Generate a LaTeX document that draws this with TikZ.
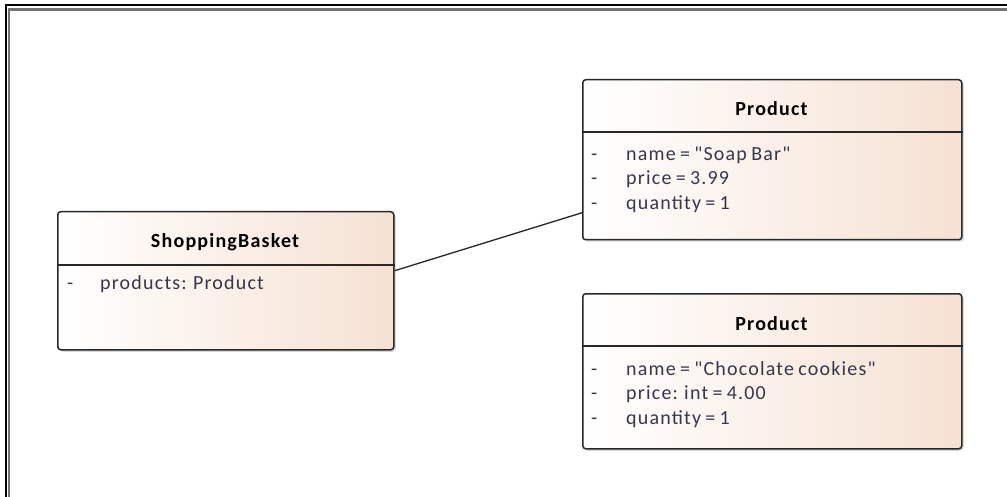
\documentclass[tikz,border=0pt]{standalone}
\usepackage{fontspec}
\setmainfont{Carlito}[LetterSpace=6, WordSpace=0.75, Ligatures=TeXOff]
\usetikzlibrary{shadows}
\definecolor{peach}{RGB}{246,225,211}
\definecolor{attrc}{RGB}{55,55,75}
\definecolor{borderc}{RGB}{40,40,40}
\begin{document}
\begin{tikzpicture}[x=1pt,y=-1pt,
  umlbox/.style={draw=borderc, line width=1.5pt, rounded corners=3pt, left color=white, right color=peach,
    anchor=north west, inner sep=0pt,
    drop shadow={shadow xshift=2pt,shadow yshift=-2pt,opacity=0.3}},
  titletext/.style={font=\bfseries\fontsize{20}{24}\selectfont, text=black, anchor=base, inner sep=0pt},
  attrtext/.style={font=\fontsize{20}{24}\selectfont, text=attrc, anchor=base west, inner sep=0pt},
  divider/.style={draw=borderc, line width=1.5pt},
  conn/.style={draw=black!85, line width=1.3pt}]
\useasboundingbox[fill=white] (0,0) rectangle (1007,497);
% frame
\draw[black, line width=2pt] (1020,5.5) -- (5.5,5.5) -- (5.5,510);
\draw[black!55, line width=2.5pt] (1020,9.5) -- (9.2,9.5) -- (9.2,510);
% ShoppingBasket
\node[umlbox, minimum width=336pt, minimum height=138pt] (sb) at (57,211) {};
\draw[divider] (sb.west |- 0,265) -- (sb.east |- 0,265);
\node[titletext] (sbt) at (225,248) {ShoppingBasket};
\node[attrtext] (sbd) at (67,289) {-};
\node[attrtext] (sba) at (100,289) {products: Product};
% Product 1
\node[umlbox, minimum width=379pt, minimum height=160pt] (p1) at (582,79) {};
\draw[divider] (p1.west |- 0,132) -- (p1.east |- 0,132);
\node[titletext] (p1t) at (771.5,115.7) {Product};
\node[attrtext] (p1d1) at (591,160.5) {-};
\node[attrtext] (p1a1) at (626,160.5) {name = "Soap Bar"};
\node[attrtext] (p1d2) at (591,185) {-};
\node[attrtext] (p1a2) at (626,185) {price = 3.99};
\node[attrtext] (p1d3) at (591,209.5) {-};
\node[attrtext] (p1a3) at (626,209.5) {quantity = 1};
% Product 2
\node[umlbox, minimum width=379pt, minimum height=155pt] (p2) at (582,293) {};
\draw[divider] (p2.west |- 0,346) -- (p2.east |- 0,346);
\node[titletext] (p2t) at (771.5,330) {Product};
\node[attrtext] (p2d1) at (591,375) {-};
\node[attrtext] (p2a1) at (626,375) {name = "Chocolate cookies"};
\node[attrtext] (p2d2) at (591,399.5) {-};
\node[attrtext] (p2a2) at (626,399.5) {price: int = 4.00};
\node[attrtext] (p2d3) at (591,424) {-};
\node[attrtext] (p2a3) at (626,424) {quantity = 1};
% connector
\draw[conn] ([yshift=10pt]sb.east) -- ([yshift=-53pt]p1.west);
\end{tikzpicture}
\end{document}
